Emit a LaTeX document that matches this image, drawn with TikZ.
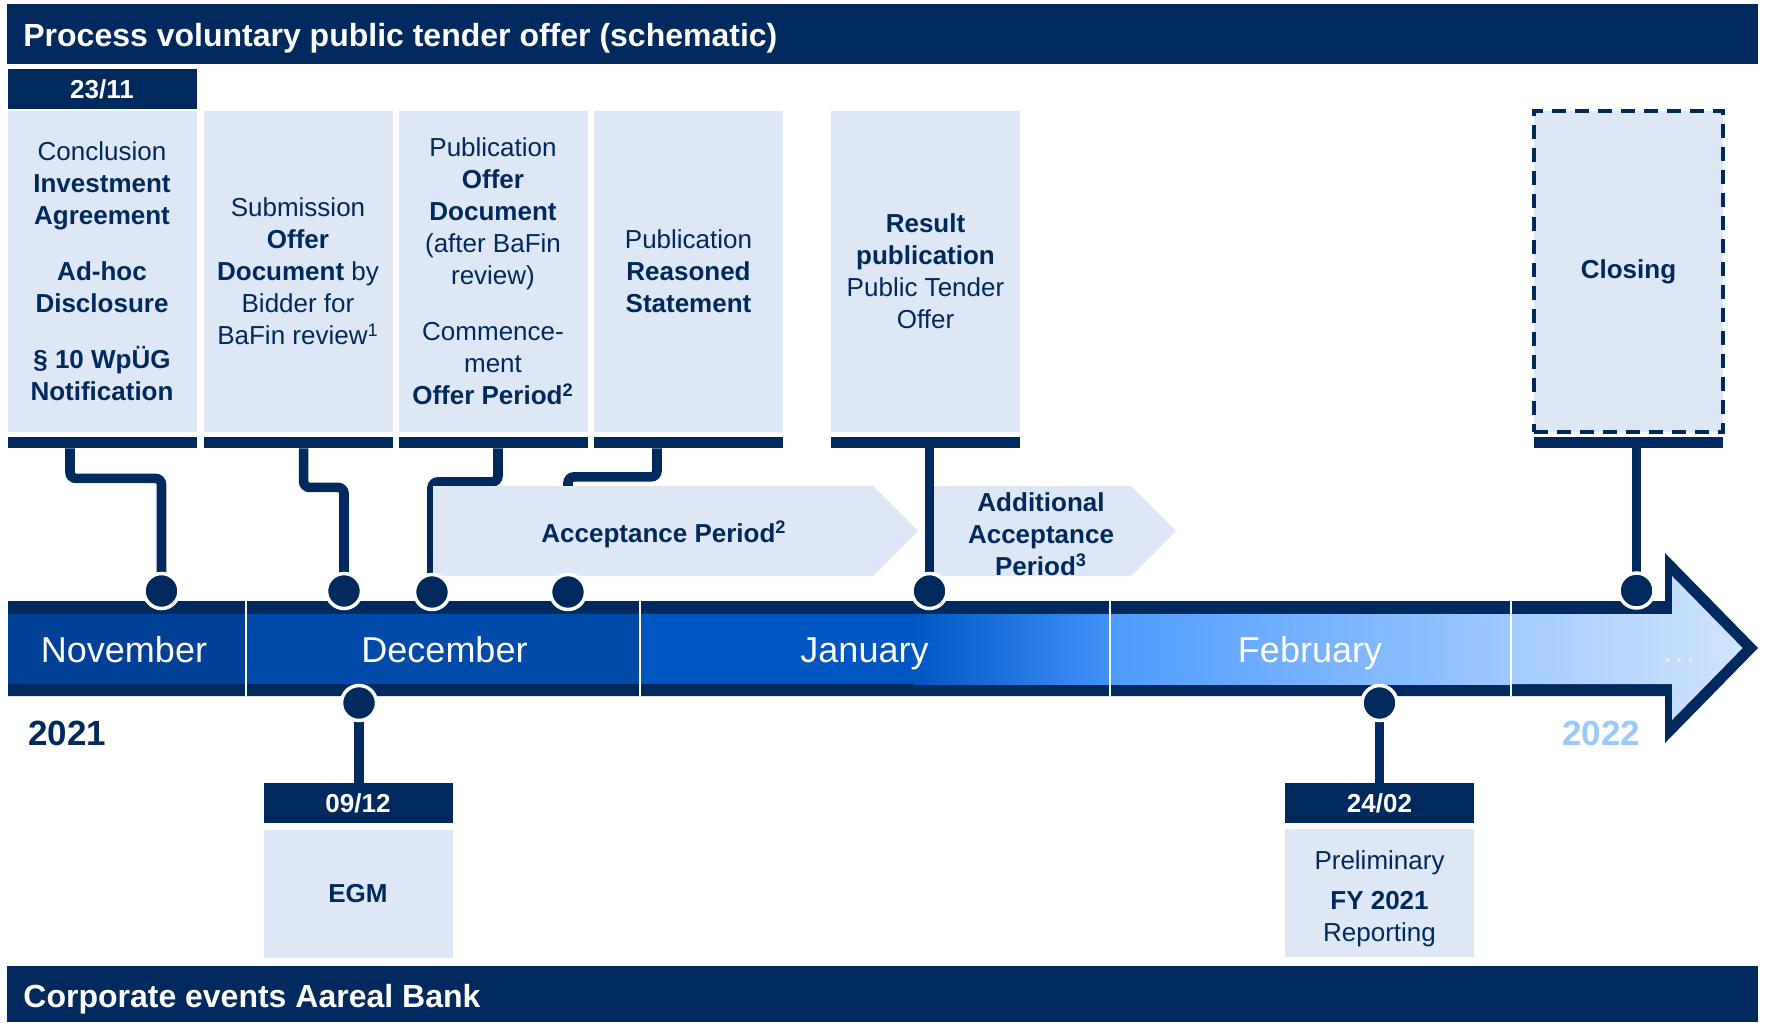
\documentclass[tikz,border=0pt]{standalone}
\usepackage{fontspec}
\setmainfont{Liberation Sans}
\usepackage{tikz}
\pgfdeclarelayer{back}
\pgfsetlayers{back,main}
\definecolor{navy}{RGB}{0,41,94}
\definecolor{pale}{RGB}{221,231,245}
\definecolor{novblue}{RGB}{0,64,150}
\definecolor{decblue}{RGB}{0,75,170}
\definecolor{janblue}{RGB}{0,86,192}
\definecolor{janlight}{RGB}{66,146,250}
\definecolor{febblue}{RGB}{78,155,255}
\definecolor{feblight}{RGB}{158,200,255}
\definecolor{endblue}{RGB}{163,204,255}
\definecolor{endlight}{RGB}{208,228,255}
\definecolor{yearblue}{RGB}{153,201,255}
\definecolor{moretxt}{RGB}{225,236,255}

\begin{document}
\begin{tikzpicture}[x=0.5pt,y=-0.5pt,node distance=85.5pt,
                    font=\fontsize{13}{16}\selectfont]
  \tikzstyle{evbox}=[rectangle,fill=pale,text=navy,minimum width=94.5pt,
                     minimum height=160.5pt,inner sep=0pt,align=center]
  \tikzstyle{evbar}=[rectangle,fill=navy,minimum width=94.5pt,minimum height=5.5pt,inner sep=0pt]
  \tikzstyle{datebox}=[rectangle,fill=navy,text=white,minimum width=94.5pt,minimum height=20pt,
                       inner sep=0pt,font=\fontsize{13}{16}\selectfont\bfseries]
  \tikzstyle{evdot}=[circle,fill=navy,draw=white,line width=1.75pt,minimum size=17.5pt,inner sep=0pt]
  \tikzstyle{linkline}=[draw=navy,line width=4.8pt,rounded corners=3pt]
  \tikzstyle{monthlbl}=[anchor=base,text=white,font=\fontsize{18}{20}\selectfont]
  \tikzstyle{boldlbl}=[text=navy,align=center,font=\fontsize{13}{16}\selectfont\bfseries]
  \tikzstyle{headlbl}=[anchor=base west,inner sep=0pt,text=white,font=\fontsize{16}{19}\selectfont\bfseries]
  \tikzstyle{yearlbl}=[inner sep=0pt,font=\fontsize{17.5}{20}\selectfont\bfseries]

  \useasboundingbox (0,0) rectangle (1765,1022);

  \fill[navy] (7,4) rectangle (1758,64);
  \node[headlbl] (ttl) at (23,47) {Process voluntary public tender offer (schematic)};
  \fill[navy] (7,966) rectangle (1758,1022);
  \node[headlbl] (corp) at (23,1007) {Corporate events Aareal Bank};

  % offer steps
  \node[datebox] (d2311) at (102,89) {23/11};
  \node[evbox] (conc) at (102,271.5) {Conclusion\\\textbf{Investment}\\\textbf{Agreement}\\[12pt]
      \textbf{Ad-hoc}\\\textbf{Disclosure}\\[12pt]\textbf{§ 10 WpÜG}\\\textbf{Notification}};
  \node[evbox] (subm) at (298,271.5) {Submission\\\textbf{Offer}\\\textbf{Document} by\\Bidder for\\
      BaFin review\textsuperscript{1}};
  \node[evbox] (publ) at (493,271.5) {Publication\\\textbf{Offer}\\\textbf{Document}\\(after BaFin\\review)\\[12pt]
      Commence-\\ment\\\textbf{Offer Period\textsuperscript{2}}};
  \node[evbox] (reas) at (688.5,271.5) {Publication\\\textbf{Reasoned}\\\textbf{Statement}};
  \node[evbox] (resu) at (925.5,271.5) {\textbf{Result}\\\textbf{publication}\\Public Tender\\Offer};
  \node[evbox,draw=navy,line width=1.8pt,dash pattern=on 7pt off 4.5pt] (clos) at (1628.5,271.5) {\textbf{Closing}};

  \node[evbar] (bar1) [below of=conc] {};
  \node[evbar] (bar2) [below of=subm] {};
  \node[evbar] (bar3) [below of=publ] {};
  \node[evbar] (bar4) [below of=reas] {};
  \node[evbar] (bar5) [below of=resu] {};
  \node[evbar] (bar6) [below of=clos] {};

  \fill[pale] (433,486) -- (873,486) -- (918,531) -- (873,576) -- (433,576) -- cycle;
  \node[boldlbl] (accp) at (664,534) {Acceptance Period\textsuperscript{2}};
  \fill[pale] (934,486) -- (1131,486) -- (1176,531) -- (1131,576) -- (934,576) -- cycle;
  \node[boldlbl] (addp) at (1041,534) {Additional\\Acceptance\\Period\textsuperscript{3}};

  % timeline
  \fill[navy] (8,601) -- (1665,601) -- (1665,553) -- (1758,648) -- (1665,743) -- (1665,696) -- (8,696) -- cycle;
  \fill[novblue] (8,614) rectangle (246,684);
  \fill[decblue] (246,614) rectangle (640,684);
  \fill[janblue] (640,614) rectangle (915,684);
  \shade[left color=janblue,right color=janlight] (914,614) rectangle (1110,684);
  \shade[left color=febblue,right color=feblight] (1110,614) rectangle (1511,684);
  \shade[left color=endblue,right color=endlight] (1511,614) -- (1672,614) -- (1672,576) -- (1742.6,648)
      -- (1672,720) -- (1672,684) -- (1511,684) -- cycle;
  \draw[white,line width=1.3pt] (246,601) -- (246,696) (640,601) -- (640,696)
      (1110,601) -- (1110,696) (1511,601) -- (1511,696);

  \node[monthlbl] (nov) at (124,662) {November};
  \node[monthlbl] (dec) at (444.5,662) {December};
  \node[monthlbl] (jan) at (864.5,662) {January};
  \node[monthlbl] (feb) at (1310,662) {February};
  \node[monthlbl,text=moretxt] (more) at (1679,662) {…};
  \node[yearlbl,anchor=base west,text=navy] (y2021) at (28,745) {2021};
  \node[yearlbl,anchor=base,text=yearblue] (y2022) at (1601,745) {2022};

  \node[evdot] (dot1) at (161.5,591) {};
  \node[evdot] (dot2) at (344,591) {};
  \node[evdot] (dot3) at (432,592) {};
  \node[evdot] (dot4) at (568,592) {};
  \node[evdot] (dot5) at (929.5,591) {};
  \node[evdot] (dot6) at (1636.5,590.5) {};
  \node[evdot] (dotegm) at (359,703) {};
  \node[evdot] (dotfy) at (1379.5,703) {};

  % corporate events
  \node[datebox] (d0912) at (358,803) {09/12};
  \node[evbox,minimum height=64pt] (egm) at (358,894) {\textbf{EGM}};
  \node[datebox] (d2402) at (1379.5,803) {24/02};
  \node[evbox,minimum height=64pt] (prel) at (1379.5,893) {};
  \node[text=navy,align=center,inner sep=0pt] (prelt) at (1379.5,898.5) {Preliminary\\[4pt]\textbf{FY 2021}\\Reporting};

  \begin{pgfonlayer}{back}
  \draw[linkline] ([xshift=-16pt]bar1.south) -- ++(0,30) -| (dot1.center);
  \draw[linkline] ([xshift=2.8pt]bar2.south) -- ++(0,39) -| (dot2.center);
  \draw[linkline] ([xshift=2.5pt]bar3.south) -- ++(0,33.5) -| (dot3.center);
  \draw[linkline] ([xshift=-15.75pt]bar4.south) -- ++(0,28.5) -| (dot4.center);
  \draw[linkline] (bar5.south -| dot5) -- (dot5.center);
  \draw[linkline] (bar6.south -| dot6) -- (dot6.center);
  \draw[linkline] (dotegm.center) -- (dotegm |- d0912.north);
  \draw[linkline] (dotfy.center) -- (dotfy |- d2402.north);
  \end{pgfonlayer}
\end{tikzpicture}
\end{document}
